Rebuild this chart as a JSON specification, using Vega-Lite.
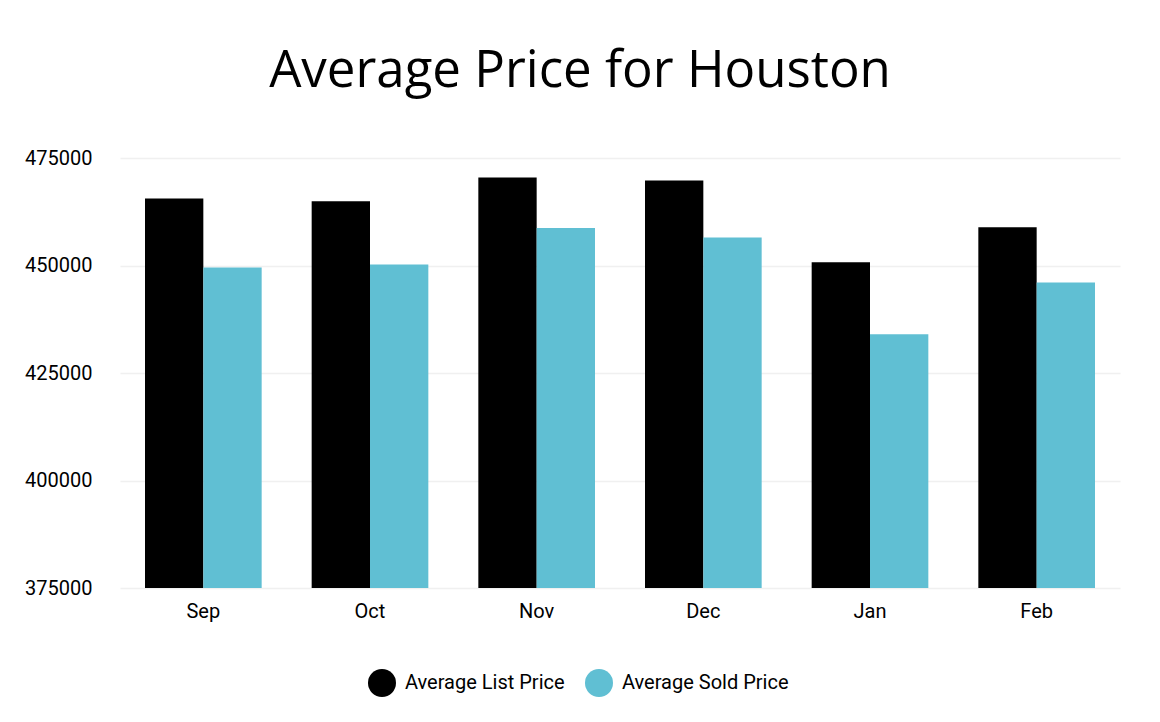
{
  "$schema": "https://vega.github.io/schema/vega-lite/v6.json",
  "width": 1000,
  "height": 430,
  "autosize": {"type": "none"},
  "padding": {"left": 120, "top": 158, "right": 40, "bottom": 134},
  "background": "white",
  "title": {
    "text": "Average Price for Houston",
    "font": "Open Sans",
    "fontSize": 51,
    "fontWeight": "normal",
    "color": "#000000",
    "anchor": "middle",
    "baseline": "alphabetic",
    "offset": 10,
    "dx": -40
  },
  "data": {
    "values": [
      {"month": "Sep", "series": "Average List Price", "price": 465560},
      {"month": "Sep", "series": "Average Sold Price", "price": 449510},
      {"month": "Oct", "series": "Average List Price", "price": 464930},
      {"month": "Oct", "series": "Average Sold Price", "price": 450210},
      {"month": "Nov", "series": "Average List Price", "price": 470440},
      {"month": "Nov", "series": "Average Sold Price", "price": 458720},
      {"month": "Dec", "series": "Average List Price", "price": 469740},
      {"month": "Dec", "series": "Average Sold Price", "price": 456490},
      {"month": "Jan", "series": "Average List Price", "price": 450740},
      {"month": "Jan", "series": "Average Sold Price", "price": 434000},
      {"month": "Feb", "series": "Average List Price", "price": 458880},
      {"month": "Feb", "series": "Average Sold Price", "price": 446020}
    ]
  },
  "mark": {"type": "bar", "clip": true},
  "encoding": {
    "x": {
      "field": "month",
      "type": "nominal",
      "sort": ["Sep", "Oct", "Nov", "Dec", "Jan", "Feb"],
      "scale": {"paddingInner": 0.3, "paddingOuter": 0.15},
      "axis": {
        "title": null,
        "labelAngle": 0,
        "labelFont": "Roboto",
        "labelFontSize": 20,
        "labelColor": "#000000",
        "labelPadding": 13,
        "domain": false,
        "ticks": false,
        "grid": false
      }
    },
    "xOffset": {"field": "series", "type": "nominal", "sort": ["Average List Price", "Average Sold Price"]},
    "y": {
      "field": "price",
      "type": "quantitative",
      "scale": {"domain": [375000, 475000], "zero": false, "nice": false},
      "axis": {
        "title": null,
        "values": [375000, 400000, 425000, 450000, 475000],
        "format": "d",
        "labelFont": "Roboto",
        "labelFontSize": 20,
        "labelColor": "#000000",
        "labelPadding": 28,
        "domain": false,
        "ticks": false,
        "gridColor": "#f0f0f0",
        "gridWidth": 1.5
      }
    },
    "y2": {"datum": 375000},
    "color": {
      "field": "series",
      "type": "nominal",
      "scale": {"domain": ["Average List Price", "Average Sold Price"], "range": ["#000000", "#60bfd3"]},
      "legend": {
        "title": null,
        "orient": "none",
        "legendX": 248,
        "legendY": 511,
        "direction": "horizontal",
        "symbolType": "circle",
        "symbolSize": 784,
        "symbolStrokeWidth": 0,
        "labelFont": "Roboto",
        "labelFontSize": 20,
        "labelColor": "#000000",
        "labelOffset": 9,
        "labelLimit": 400,
        "columnPadding": 20
      }
    }
  },
  "config": {"view": {"stroke": null}}
}
